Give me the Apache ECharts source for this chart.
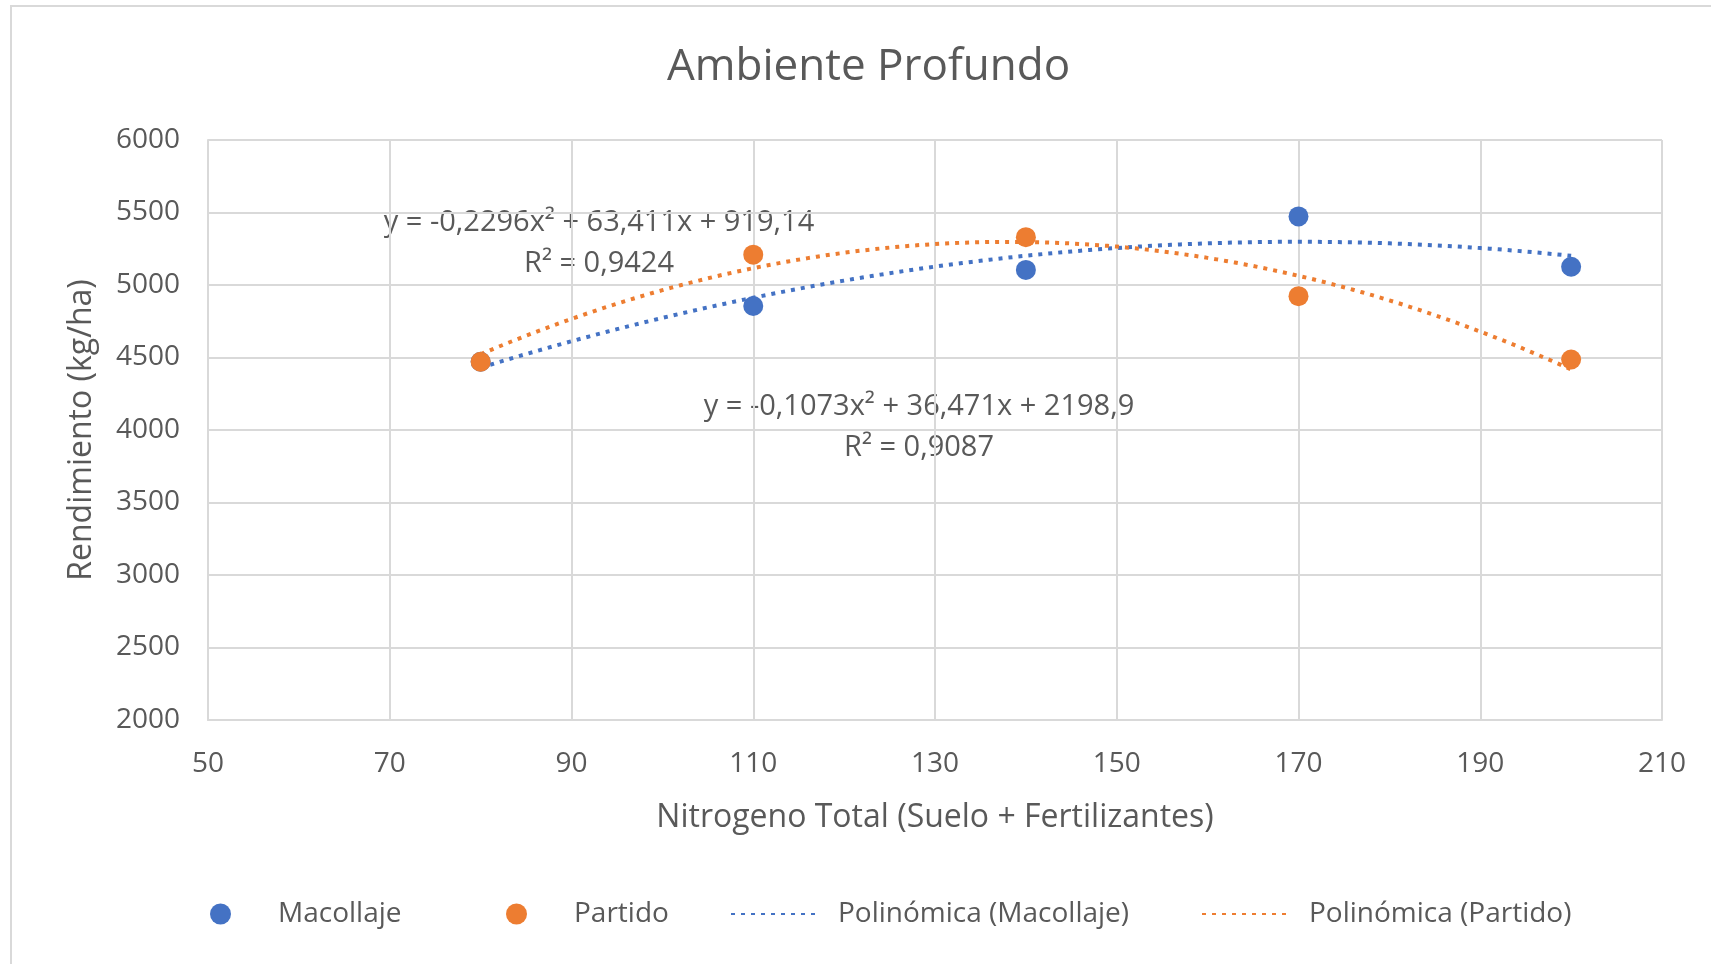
<!DOCTYPE html>
<html>
<head>
<meta charset="utf-8">
<title>Ambiente Profundo</title>
<script src="https://cdn.jsdelivr.net/npm/echarts@6/dist/echarts.min.js"></script>
<style>
  html, body { margin: 0; padding: 0; background: #fff; }
  #chart { width: 1711px; height: 964px; }
</style>
</head>
<body>
<div id="chart"></div>
<script>
// nitrogen levels (kg/ha)
const nitrogen = [80, 110, 140, 170, 200]
// yields
const macollaje = [4471, 4855, 5104, 5473, 5126]
const partido = [4471, 5209, 5330, 4923, 4486]

// trendline coefficients as printed on the chart: [a, b, c] for a*x^2 + b*x + c
const coefMacollaje = [-0.1073, 36.471, 2198.9]
const coefPartido = [-0.2296, 63.411, 919.14]

const eqPartido = ['y = -0,2296x² + 63,411x + 919,14', 'R² = 0,9424']
const eqMacollaje = ['y = -0,1073x² + 36,471x + 2198,9', 'R² = 0,9087']

const xTicks = [50, 210, 20]
const yTicks = [2000, 6000, 500]

const BLUE = '#4472C4'
const ORANGE = '#ED7D31'
const TEXT = '#595959'
const GRID = '#d9d9d9'
const FONT = 'Open Sans'

// sample the trendline over the data range
function trend(coef) {
  const pts = []
  for (let x = nitrogen[0]; x <= nitrogen[nitrogen.length - 1]; x += 1) {
    pts.push([x, coef[0] * x * x + coef[1] * x + coef[2]])
  }
  return pts
}

function pairs(ys) {
  return nitrogen.map((x, i) => [x, ys[i]])
}

const chart = echarts.init(document.getElementById('chart'))

const dotted = { type: [4, 6], width: 4, cap: 'butt' }

function legendItem(name, left, width, pad, hideSymbol) {
  const l = {
    data: [name],
    left: left,
    top: 900,
    itemWidth: width,
    itemHeight: 21,
    padding: 0,
    textStyle: { fontFamily: FONT, fontSize: 28, color: TEXT, padding: [0, 0, 0, pad] }
  }
  if (hideSymbol) l.itemStyle = { opacity: 0 }
  return l
}

const option = {
  animation: false,
  title: {
    text: 'Ambiente Profundo',
    left: 667,
    top: 45,
    padding: 0,
    textStyle: { fontFamily: FONT, fontSize: 44, fontWeight: 'normal', color: TEXT }
  },
  grid: { left: 208, top: 140, right: 49, bottom: 244 },
  xAxis: {
    type: 'value',
    min: xTicks[0],
    max: xTicks[1],
    interval: xTicks[2],
    name: 'Nitrogeno Total (Suelo + Fertilizantes)',
    nameLocation: 'middle',
    nameGap: 82,
    nameTextStyle: { fontFamily: FONT, fontSize: 32, color: TEXT },
    axisLine: { lineStyle: { color: GRID, width: 2 } },
    axisTick: { show: false },
    axisLabel: { fontFamily: FONT, fontSize: 28, color: TEXT, margin: 30 },
    splitLine: { lineStyle: { color: GRID, width: 2 } }
  },
  yAxis: {
    type: 'value',
    min: yTicks[0],
    max: yTicks[1],
    interval: yTicks[2],
    name: 'Rendimiento (kg/ha)',
    nameLocation: 'middle',
    nameGap: 110,
    nameTextStyle: { fontFamily: FONT, fontSize: 32, color: TEXT },
    axisLine: { show: true, lineStyle: { color: GRID, width: 2 } },
    axisTick: { show: false },
    axisLabel: { fontFamily: FONT, fontSize: 28, color: TEXT, margin: 28, formatter: v => String(v) },
    splitLine: { lineStyle: { color: GRID, width: 2 } }
  },
  legend: [
    legendItem('Macollaje', 210, 21, 42, false),
    legendItem('Partido', 506, 21, 42, false),
    legendItem('Polinómica (Macollaje)', 730, 89, 13, true),
    legendItem('Polinómica (Partido)', 1201, 90, 12, true)
  ],
  graphic: [
    {
      type: 'rect',
      silent: true,
      shape: { x: 11, y: 6, width: 1800, height: 1100 },
      style: { fill: 'none', stroke: GRID, lineWidth: 2 }
    },
    {
      type: 'text',
      x: 599, y: 243,
      style: {
        text: eqPartido.join('\n'), align: 'center', verticalAlign: 'middle',
        font: '29px "Open Sans"', fill: TEXT, lineHeight: 41
      }
    },
    {
      type: 'text',
      x: 919, y: 427,
      style: {
        text: eqMacollaje.join('\n'), align: 'center', verticalAlign: 'middle',
        font: '29px "Open Sans"', fill: TEXT, lineHeight: 41
      }
    }
  ],
  series: [
    {
      name: 'Polinómica (Macollaje)',
      type: 'line',
      data: trend(coefMacollaje),
      showSymbol: false,
      symbol: 'none',
      itemStyle: { color: BLUE },
      lineStyle: Object.assign({ color: BLUE }, dotted),
      z: 2
    },
    {
      name: 'Polinómica (Partido)',
      type: 'line',
      data: trend(coefPartido),
      showSymbol: false,
      symbol: 'none',
      itemStyle: { color: ORANGE },
      lineStyle: Object.assign({ color: ORANGE }, dotted),
      z: 2
    },
    {
      name: 'Macollaje',
      type: 'scatter',
      data: pairs(macollaje),
      symbolSize: 20,
      itemStyle: { color: BLUE, opacity: 1 },
      z: 3
    },
    {
      name: 'Partido',
      type: 'scatter',
      data: pairs(partido),
      symbolSize: 20,
      itemStyle: { color: ORANGE, opacity: 1 },
      z: 4
    }
  ]
}

chart.setOption(option)
</script>
</body>
</html>
